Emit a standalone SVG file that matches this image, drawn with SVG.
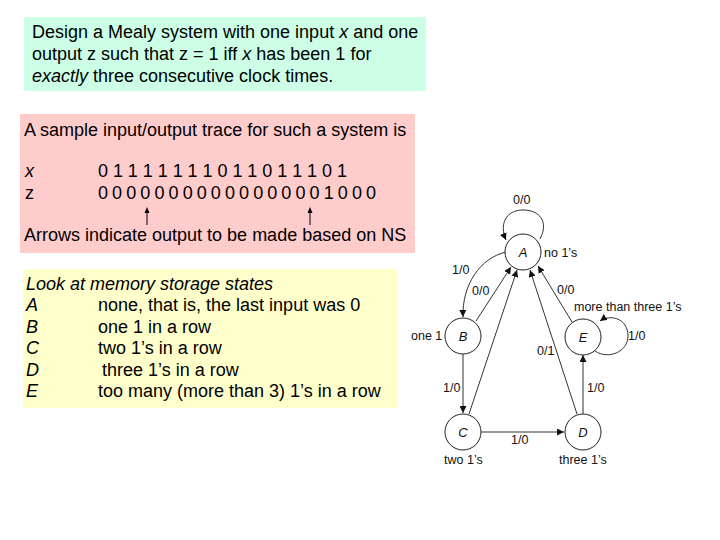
<svg xmlns="http://www.w3.org/2000/svg" width="720" height="540" viewBox="0 0 720 540">
<style>
.t{font-family:"Liberation Sans",Arial,sans-serif;font-size:18px;fill:#000}
.i{font-style:italic}
.s{font-family:"Liberation Sans",Arial,sans-serif;font-size:12.5px;fill:#111}
.n{font-family:"Liberation Sans",Arial,sans-serif;font-size:13px;font-style:italic;fill:#111;text-anchor:middle}
.c{fill:#fff;stroke:#222;stroke-width:1}
.e{fill:none;stroke:#333;stroke-width:1}
</style>
<defs>
<marker id="ah" viewBox="0 0 10 10" refX="10" refY="5" markerWidth="7" markerHeight="7" markerUnits="userSpaceOnUse" orient="auto">
<path d="M0,0 L10,5 L0,10 z" fill="#111"/>
</marker>
</defs>
<rect width="720" height="540" fill="#fff"/>

<g id="problem">
<rect x="24" y="17" width="402" height="74" fill="#ccffe6"/>
<text class="t" x="32" y="38">Design a Mealy system with one input <tspan class="i">x</tspan> and one</text>
<text class="t" x="32" y="60">output z such that z = 1 iff <tspan class="i">x</tspan> has been 1 for</text>
<text class="t" x="32" y="82"><tspan class="i">exactly</tspan> three consecutive clock times.</text>
</g>

<g id="trace">
<rect x="20" y="114" width="395" height="139" fill="#ffcccc"/>
<text class="t" x="24" y="136">A sample input/output trace for such a system is</text>
<text class="t i" x="25" y="177">x</text>
<text class="t" x="25" y="199">z</text>
<text class="t" x="98" y="177" textLength="249" lengthAdjust="spacing">0 1 1 1 1 1 1 1 0 1 1 0 1 1 1 0 1</text>
<text class="t" x="98" y="199" textLength="278" lengthAdjust="spacing">0 0 0 0 0 0 0 0 0 0 0 0 0 0 0 0 1 0 0 0</text>
<path d="M147,225 V210 M310,225 V210" stroke="#000" stroke-width="1"/>
<path d="M144.5,213 L147,207 L149.5,213 z M307.5,213 L310,207 L312.5,213 z" fill="#000"/>
<text class="t" x="24" y="241">Arrows indicate output to be made based on NS</text>
</g>

<g id="states">
<rect x="23" y="269" width="375" height="139" fill="#ffffcc"/>
<text class="t i" x="26" y="290">Look at memory storage states</text>
<text class="t i" x="26" y="311">A</text><text class="t" x="98" y="311">none, that is, the last input was 0</text>
<text class="t i" x="26" y="333">B</text><text class="t" x="98" y="333">one 1 in a row</text>
<text class="t i" x="26" y="354">C</text><text class="t" x="98" y="354">two 1’s in a row</text>
<text class="t i" x="26" y="376">D</text><text class="t" x="102" y="376">three 1’s in a row</text>
<text class="t i" x="26" y="397">E</text><text class="t" x="98" y="397">too many (more than 3) 1’s in a row</text>
</g>

<g id="connectors">
<path class="e" d="M540,239 C549,222 540,210 523,210 C506,210 499,224 506,240" marker-end="url(#ah)"/>
<path class="e" d="M506,252 C480,258 462,285 463,317" marker-end="url(#ah)"/>
<path class="e" d="M476,321 L511,267" marker-end="url(#ah)"/>
<path class="e" d="M469,414 L517,270" marker-end="url(#ah)"/>
<path class="e" d="M577,414 L530,270" marker-end="url(#ah)"/>
<path class="e" d="M572,322 L538,266" marker-end="url(#ah)"/>
<path class="e" d="M463,354 L463,413" marker-end="url(#ah)"/>
<path class="e" d="M583,414 L583,355" marker-end="url(#ah)"/>
<path class="e" d="M481,432 L564,432" marker-end="url(#ah)"/>
<path class="e" d="M595,351 C608,360 628,352 628,336 C628,318 610,314 600,321" marker-end="url(#ah)"/>
<text class="s" x="513" y="204">0/0</text>
<text class="s" x="452" y="274">1/0</text>
<text class="s" x="472" y="295">0/0</text>
<text class="s" x="557" y="294">0/0</text>
<text class="s" x="537" y="355">0/1</text>
<text class="s" x="628" y="340">1/0</text>
<text class="s" x="443" y="392">1/0</text>
<text class="s" x="587" y="392">1/0</text>
<text class="s" x="511" y="444">1/0</text>
</g>

<g id="A"><circle class="c" cx="523" cy="252" r="18"/><text class="n" x="523" y="257">A</text><text class="s" x="544" y="257">no 1’s</text></g>
<g id="B"><circle class="c" cx="463" cy="336" r="18"/><text class="n" x="463" y="341">B</text><text class="s" x="411" y="340">one 1</text></g>
<g id="C"><circle class="c" cx="463" cy="432" r="18"/><text class="n" x="463" y="437">C</text><text class="s" x="444" y="464">two 1’s</text></g>
<g id="D"><circle class="c" cx="583" cy="432" r="18"/><text class="n" x="583" y="437">D</text><text class="s" x="559" y="464">three 1’s</text></g>
<g id="E"><circle class="c" cx="583" cy="337" r="18"/><text class="n" x="583" y="342">E</text><text class="s" x="574" y="311">more than three 1’s</text></g>
</svg>
